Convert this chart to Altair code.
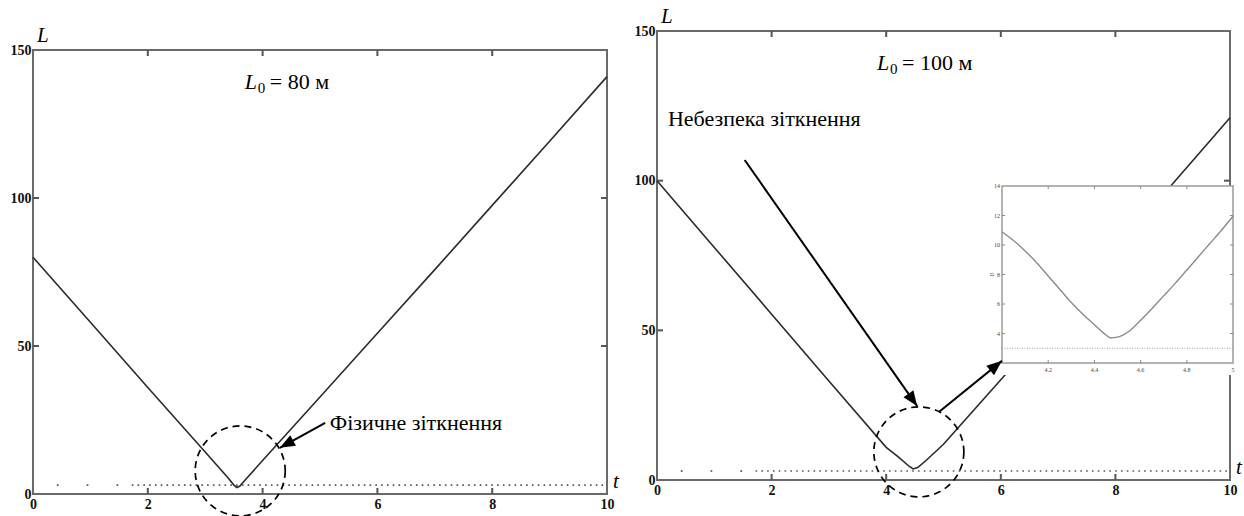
import math
import altair as alt
import pandas as pd

FONT = "'Liberation Serif', 'Times New Roman', 'DejaVu Serif', serif"

# ---- data -------------------------------------------------------------
# Distance L (m) versus time t (s), initial distance 80 m
T_A = [0, 1, 2, 3, 3.4, 3.5, 3.55, 3.6, 3.7, 4, 5, 6, 7, 8, 9, 10]
L_A = [80, 58, 36, 14.2, 5.4, 3.0, 2.2, 2.6, 4.8, 11.3, 32.8, 54.3, 75.8, 97.5, 119.2, 141]

# Distance L (m) versus time t (s), initial distance 100 m
T_B = [0, 1, 2, 3, 4, 4.2, 4.4, 4.47, 4.55, 4.7, 5, 6, 7, 8, 9, 10]
L_B = [100, 77.7, 55.4, 33.1, 10.9, 7.9, 4.6, 3.7, 4.15, 6.6, 11.95, 33.5, 55, 76.5, 99, 121]

# Close-up of the minimum for the 100 m case
T_Z = [4.0, 4.05, 4.1, 4.15, 4.2, 4.25, 4.3, 4.35, 4.4, 4.45, 4.47, 4.5, 4.55, 4.6,
       4.65, 4.7, 4.75, 4.8, 4.85, 4.9, 4.95, 5.0]
L_Z = [10.9, 10.3, 9.6, 8.8, 7.9, 7.0, 6.1, 5.3, 4.6, 3.9, 3.7, 3.75, 4.15, 4.9,
       5.7, 6.55, 7.4, 8.3, 9.2, 10.1, 11.0, 11.95]

SAFE_L = 3                      # safe-distance threshold (dotted line)
SPARSE_T = [0.43, 0.95, 1.47]   # isolated dots at the start of the threshold line
DENSE_FROM = 1.72

X_DOMAIN = [0, 10]
Y_DOMAIN = [0, 150]
X_TICKS = [0, 2, 4, 6, 8, 10]
Y_TICKS = [0, 50, 100, 150]
INNER_X_TICKS = [2, 4, 6, 8]
INNER_Y_TICKS = [50, 100]

Z_X_DOMAIN = [4, 5]
Z_Y_DOMAIN = [2, 14]
Z_X_TICKS = [4.2, 4.4, 4.6, 4.8, 5]
Z_X_LABELS = ["4.2", "4.4", "4.6", "4.8", "5"]
Z_Y_TICKS = [4, 6, 8, 10, 12, 14]

# annotation anchors (t, L)
CIRCLE_A = (3.61, 7.8)
CIRCLE_B = (4.57, 9.4)
ARROW_A = (5.09, 24.0, 4.30, 15.6)
ARROW_B1 = (1.53, 106.9, 4.54, 24.7)
ARROW_B2 = (4.92, 22.7, 6.02, 39.8)
TEXT_A = (5.17, 24.0, "Фізичне зіткнення")
TEXT_B = (0.19, 120.5, "Небезпека зіткнення")
L0_A = (3.69, 139.2, "= 80 м")
L0_B = (3.84, 139.3, "= 100 м")

# ---- layout (pixels) --------------------------------------------------
W, H = 1244, 516
LEFT_X, LEFT_Y = [33, 607], [494, 50]
RIGHT_X, RIGHT_Y = [657, 1230], [480, 31]
INSET_X, INSET_Y = [1002, 1233], [363, 186]
TICK = 6
ARROW_SHAPE = "M0,0L-0.8,2L0.8,2Z"


def to_px(t, L, xr, yr, xd=X_DOMAIN, yd=Y_DOMAIN):
    px = xr[0] + (t - xd[0]) / (xd[1] - xd[0]) * (xr[1] - xr[0])
    py = yr[0] + (L - yd[0]) / (yd[1] - yd[0]) * (yr[1] - yr[0])
    return px, py


def arrow_layers(arrow, X, Y, xr, yr):
    t0, l0, t1, l1 = arrow
    p0 = to_px(t0, l0, xr, yr)
    p1 = to_px(t1, l1, xr, yr)
    ang = math.degrees(math.atan2(p1[0] - p0[0], -(p1[1] - p0[1]))) % 360
    df = pd.DataFrame({"t": [t0], "L": [l0], "t2": [t1], "L2": [l1]})
    shaft = alt.Chart(df).mark_rule(color="black", strokeWidth=2).encode(
        x=X("t"), y=Y("L"), x2="t2", y2="L2")
    head = alt.Chart(pd.DataFrame({"t": [t1], "L": [l1]})).mark_point(
        shape=ARROW_SHAPE, size=230, filled=True, color="black", opacity=1,
        angle=ang).encode(x=X("t"), y=Y("L"))
    return [shaft, head]


def encoders(xr, yr, with_axes):
    xs = alt.Scale(domain=X_DOMAIN, range=xr, nice=False, zero=False)
    ys = alt.Scale(domain=Y_DOMAIN, range=yr, nice=False, zero=False)
    if with_axes:
        common = dict(ticks=False, domain=False, grid=False, title=None,
                      labelFont=FONT, labelFontSize=14, labelFontWeight="bold",
                      labelColor="#111", labelFlush=False, labelOverlap=False)
        xa = alt.Axis(orient="bottom", offset=-(H - yr[0]), values=X_TICKS,
                      labelPadding=3, **common)
        ya = alt.Axis(orient="left", offset=-xr[0], values=Y_TICKS,
                      labelPadding=2, **common)
    else:
        xa = ya = None

    def X(f):
        return alt.X(f, type="quantitative", scale=xs, axis=xa)

    def Y(f):
        return alt.Y(f, type="quantitative", scale=ys, axis=ya)
    return X, Y


def text_layer(t, L, txt, X, Y, size=22, style="normal", dx=0, dy=0, align="left"):
    df = pd.DataFrame({"t": [t], "L": [L], "txt": [txt]})
    return alt.Chart(df).mark_text(
        font=FONT, fontSize=size, fontStyle=style, color="black", align=align,
        baseline="middle", dx=dx, dy=dy).encode(x=X("t"), y=Y("L"), text="txt:N")


def panel(t_vals, l_vals, xr, yr, circle, l0):
    X, Y = encoders(xr, yr, True)
    frame = alt.Chart(pd.DataFrame({
        "t": [X_DOMAIN[0]], "t2": [X_DOMAIN[1]], "L": [Y_DOMAIN[0]], "L2": [Y_DOMAIN[1]]
    })).mark_rect(fill="white", fillOpacity=0, stroke="#6a6a6a", strokeWidth=2).encode(
        x=X("t"), x2="t2", y=Y("L"), y2="L2")

    xt = pd.DataFrame({"t": INNER_X_TICKS})
    yt = pd.DataFrame({"L": INNER_Y_TICKS})
    tick_style = dict(color="#555", strokeWidth=2)
    ticks = [
        alt.Chart(xt).mark_rule(**tick_style).encode(
            x=X("t"), y=alt.value(yr[0]), y2=alt.value(yr[0] - TICK)),
        alt.Chart(xt).mark_rule(**tick_style).encode(
            x=X("t"), y=alt.value(yr[1]), y2=alt.value(yr[1] + TICK)),
        alt.Chart(yt).mark_rule(**tick_style).encode(
            y=Y("L"), x=alt.value(xr[0]), x2=alt.value(xr[0] + TICK)),
        alt.Chart(yt).mark_rule(**tick_style).encode(
            y=Y("L"), x=alt.value(xr[1] - TICK), x2=alt.value(xr[1])),
    ]

    guide = alt.Chart(pd.DataFrame({
        "t": [DENSE_FROM], "t2": [X_DOMAIN[1]], "L": [SAFE_L]
    })).mark_rule(color="#555", strokeWidth=1.6, strokeDash=[1.6, 4.2]).encode(
        x=X("t"), x2="t2", y=Y("L"))
    dots = alt.Chart(pd.DataFrame({"t": SPARSE_T, "L": [SAFE_L] * len(SPARSE_T)})).mark_square(
        size=3, color="#555", opacity=1).encode(x=X("t"), y=Y("L"))

    curve = alt.Chart(pd.DataFrame({"t": t_vals, "L": l_vals})).mark_line(
        color="#2a2a2a", strokeWidth=1.6).encode(x=X("t"), y=Y("L"))

    ring = alt.Chart(pd.DataFrame({"t": [circle[0]], "L": [circle[1]]})).mark_point(
        shape="circle", size=(2 * 45) ** 2, filled=False, color="black", opacity=1,
        strokeWidth=1.7, strokeDash=[7, 5]).encode(x=X("t"), y=Y("L"))

    names = [
        text_layer(X_DOMAIN[0], Y_DOMAIN[1], "L", X, Y, size=21, style="italic", dx=4, dy=-14),
        text_layer(X_DOMAIN[1], Y_DOMAIN[0], "t", X, Y, size=21, style="italic", dx=6, dy=-12),
    ]
    title = [
        text_layer(l0[0], l0[1], "L", X, Y, size=22, style="italic"),
        text_layer(l0[0], l0[1], "0", X, Y, size=15, dx=13, dy=6),
        text_layer(l0[0], l0[1], l0[2], X, Y, size=22, dx=25),
    ]
    return [frame] + ticks + [guide, dots, curve, ring] + names + title, X, Y


left_layers, XA, YA = panel(T_A, L_A, LEFT_X, LEFT_Y, CIRCLE_A, L0_A)
left_layers += [text_layer(TEXT_A[0], TEXT_A[1], TEXT_A[2], XA, YA)]
left_layers += arrow_layers(ARROW_A, XA, YA, LEFT_X, LEFT_Y)
left = alt.layer(*left_layers)

right_layers, XB, YB = panel(T_B, L_B, RIGHT_X, RIGHT_Y, CIRCLE_B, L0_B)
right_layers += [text_layer(TEXT_B[0], TEXT_B[1], TEXT_B[2], XB, YB)]
right = alt.layer(*right_layers)

# ---- inset: close-up of the 100 m minimum ----------------------------
zxs = alt.Scale(domain=Z_X_DOMAIN, range=INSET_X, nice=False, zero=False)
zys = alt.Scale(domain=Z_Y_DOMAIN, range=INSET_Y, nice=False, zero=False)


def ZX(f):
    return alt.X(f, type="quantitative", scale=zxs, axis=None)


def ZY(f):
    return alt.Y(f, type="quantitative", scale=zys, axis=None)


inset_bg = alt.Chart(pd.DataFrame({"k": [0]})).mark_rect(color="white").encode(
    x=alt.value(INSET_X[0] - 12), x2=alt.value(INSET_X[1]),
    y=alt.value(INSET_Y[1]), y2=alt.value(INSET_Y[0] + 12))
inset_frame = alt.Chart(pd.DataFrame({
    "t": [Z_X_DOMAIN[0]], "t2": [Z_X_DOMAIN[1]], "L": [Z_Y_DOMAIN[0]], "L2": [Z_Y_DOMAIN[1]]
})).mark_rect(fill="white", stroke="#9a9a9a", strokeWidth=1.5).encode(
    x=ZX("t"), x2="t2", y=ZY("L"), y2="L2")
zxt = pd.DataFrame({"t": Z_X_TICKS[:-1]})
zyt = pd.DataFrame({"L": Z_Y_TICKS[:-1]})
zt_style = dict(color="#888", strokeWidth=1)
inset_ticks = [
    alt.Chart(zxt).mark_rule(**zt_style).encode(
        x=ZX("t"), y=alt.value(INSET_Y[0]), y2=alt.value(INSET_Y[0] - 3)),
    alt.Chart(zxt).mark_rule(**zt_style).encode(
        x=ZX("t"), y=alt.value(INSET_Y[1]), y2=alt.value(INSET_Y[1] + 3)),
    alt.Chart(zyt).mark_rule(**zt_style).encode(
        y=ZY("L"), x=alt.value(INSET_X[0]), x2=alt.value(INSET_X[0] + 3)),
    alt.Chart(zyt).mark_rule(**zt_style).encode(
        y=ZY("L"), x=alt.value(INSET_X[1] - 3), x2=alt.value(INSET_X[1])),
]
inset_guide = alt.Chart(pd.DataFrame({
    "t": [Z_X_DOMAIN[0]], "t2": [Z_X_DOMAIN[1]], "L": [SAFE_L]
})).mark_rule(color="#a0a0a0", strokeWidth=1, strokeDash=[1, 1.5]).encode(
    x=ZX("t"), x2="t2", y=ZY("L"))
inset_curve = alt.Chart(pd.DataFrame({"t": T_Z, "L": L_Z})).mark_line(
    color="#8a8a8a", strokeWidth=1.4, interpolate="monotone").encode(x=ZX("t"), y=ZY("L"))
inset_xlab = alt.Chart(pd.DataFrame({"t": Z_X_TICKS, "txt": Z_X_LABELS})).mark_text(
    font=FONT, fontSize=6, color="#444", baseline="top").encode(
    x=ZX("t"), y=alt.value(INSET_Y[0] + 4), text="txt:N")
inset_ylab = alt.Chart(pd.DataFrame({"L": Z_Y_TICKS})).mark_text(
    font=FONT, fontSize=6, color="#444", align="right", baseline="middle").encode(
    y=ZY("L"), x=alt.value(INSET_X[0] - 2), text="L:Q")
inset_name = alt.Chart(pd.DataFrame({"L": [(Z_Y_DOMAIN[0] + Z_Y_DOMAIN[1]) / 2], "txt": ["D"]})).mark_text(
    font=FONT, fontSize=6, color="#444", angle=270, baseline="middle").encode(
    y=ZY("L"), x=alt.value(INSET_X[0] - 10), text="txt:N")
inset = alt.layer(inset_bg, inset_frame, *inset_ticks, inset_guide, inset_curve,
                  inset_xlab, inset_ylab, inset_name)

# ---- arrows drawn over the inset --------------------------------------
XO, YO = encoders(RIGHT_X, RIGHT_Y, False)
overlay = alt.layer(*(arrow_layers(ARROW_B1, XO, YO, RIGHT_X, RIGHT_Y)
                      + arrow_layers(ARROW_B2, XO, YO, RIGHT_X, RIGHT_Y)))

chart = alt.layer(left, right, inset, overlay).resolve_scale(
    x="independent", y="independent"
).properties(
    width=W, height=H, autosize=alt.AutoSizeParams(type="none"), padding=0,
    background="white"
).configure_view(strokeWidth=0)

chart.save("out.html", embed_options={"renderer": "svg", "actions": False})
